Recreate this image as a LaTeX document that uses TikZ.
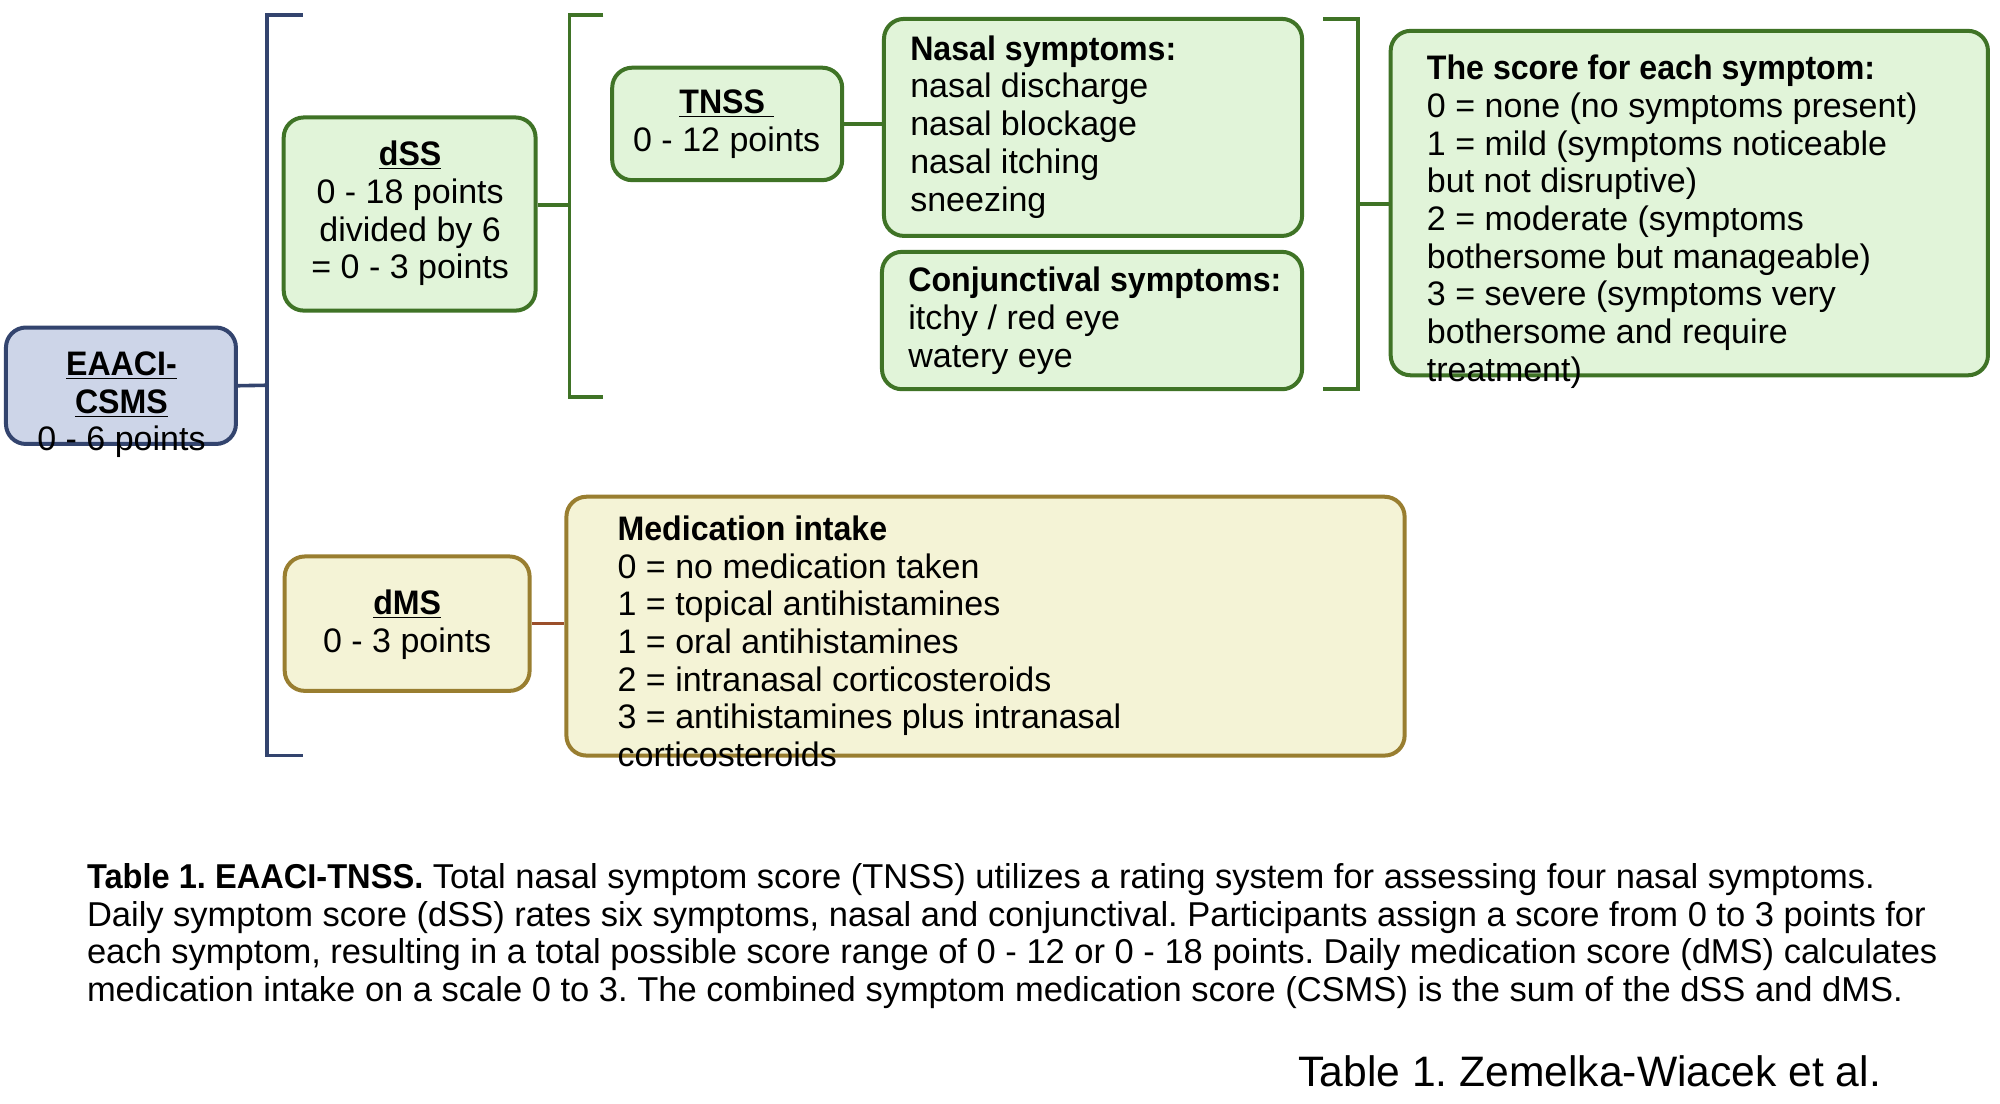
\documentclass[tikz,border=0pt]{standalone}
\usepackage{fontspec}
\setmainfont{Liberation Sans}[BoldFeatures={FakeStretch=0.945}]
\frenchspacing
\usetikzlibrary{fit}
\definecolor{bluefill}{HTML}{CDD5E8}
\definecolor{blueline}{HTML}{33446E}
\definecolor{greenfill}{HTML}{E1F4D9}
\definecolor{greenline}{HTML}{3F7326}
\definecolor{yellowfill}{HTML}{F4F3D6}
\definecolor{yellowline}{HTML}{997E30}
\definecolor{brownline}{HTML}{9B4F2A}
\begin{document}
\begin{tikzpicture}[x=0.5pt,y=-0.5pt,
  box/.style={draw, rounded corners=10pt, line width=2pt, inner sep=0pt},
  bluebox/.style={box, draw=blueline, fill=bluefill},
  greenbox/.style={box, draw=greenline, fill=greenfill},
  yellowbox/.style={box, draw=yellowline, fill=yellowfill},
  bracket/.style={line width=1.8pt},
  txt/.style={inner sep=0pt, font=\fontsize{17}{18.85}\selectfont, align=left, text=black},
  ctxt/.style={txt, align=center}]
\useasboundingbox[fill=white] (0,0) rectangle (2000,1103);
\begin{scope}[scale=0.9955]
% brackets
\draw[bracket, blueline] (304,15) -- (268,15) -- (268,759) -- (304,759);
\draw[bracket, greenline] (606,15) -- (572,15) -- (572,399) -- (606,399);
\draw[bracket, greenline] (1329,19) -- (1364,19) -- (1364,391) -- (1329,391);
\coordinate (bbc) at (268,387);
\coordinate (gbc) at (572,206);
\coordinate (rbc) at (1364,205);

% boxes
\node[bluebox, fit={(6,329) (237,446)}] (eaaci) {};
\node[greenbox, fit={(285,118) (538,312)}] (dss) {};
\node[greenbox, fit={(615,68) (846,181)}] (tnss) {};
\node[greenbox, fit={(888,19) (1308,237)}] (nasal) {};
\node[greenbox, fit={(886,253) (1308,391)}] (conj) {};
\node[greenbox, fit={(1397,31) (1997,377)}] (score) {};
\node[yellowbox, fit={(286,559) (532,694)}] (dms) {};
\node[yellowbox, fit={(569,499) (1411,759)}] (med) {};

% connectors
\draw[bracket, blueline] (eaaci.east) -- (bbc);
\draw[bracket, greenline] (gbc -| dss.east) -- (gbc);
\draw[bracket, greenline] (tnss.east) -- (tnss.east -| nasal.west);
\draw[bracket, greenline] (rbc) -- (rbc -| score.west);
\draw[bracket, brownline] (dms.east) -- (dms.east -| med.west);

% texts (anchored at the baseline of the last line)
\node[ctxt, anchor=base] (t-eaaci) at (122,453) {\underline{\textbf{EAACI-}}\\\underline{\textbf{CSMS}}\\0 - 6 points};
\node[ctxt, anchor=base] (t-dss) at (412,280) {\underline{\textbf{dSS}}\\0 - 18 points\\divided by 6\\= 0 - 3 points};
\node[ctxt, anchor=base] (t-tnss) at (730,152) {\underline{\textbf{TNSS\ }}\\0 - 12 points};
\node[txt, anchor=base west] (t-nasal) at (914,212) {\textbf{Nasal symptoms:}\\nasal discharge\\nasal blockage\\nasal itching\\sneezing};
\node[txt, anchor=base west] (t-conj) at (912,369) {\textbf{Conjunctival symptoms:}\\itchy / red eye\\watery eye};
\node[txt, anchor=base west] (t-score) at (1433,383) {\textbf{The score for each symptom:}\\0 = none (no symptoms present)\\1 = mild (symptoms noticeable\\but not disruptive)\\2 = moderate (symptoms\\bothersome but manageable)\\3 = severe (symptoms very\\bothersome and require\\treatment)};
\node[ctxt, anchor=base] (t-dms) at (409,655) {\underline{\textbf{dMS}}\\0 - 3 points};
\node[txt, anchor=base west] (t-med) at (620,770) {\textbf{Medication intake}\\0 = no medication taken\\1 = topical antihistamines\\1 = oral antihistamines\\2 = intranasal corticosteroids\\3 = antihistamines plus intranasal\\corticosteroids};

\node[txt, anchor=base west, font=\fontsize{17.25}{18.85}\selectfont] (caption) at (87,1006) {\textbf{Table 1. EAACI-TNSS.} Total nasal symptom score (TNSS) utilizes a rating system for assessing four nasal symptoms.\\Daily symptom score (dSS) rates six symptoms, nasal and conjunctival. Participants assign a score from 0 to 3 points for\\each symptom, resulting in a total possible score range of 0 - 12 or 0 - 18 points. Daily medication score (dMS) calculates\\medication intake on a scale 0 to 3. The combined symptom medication score (CSMS) is the sum of the dSS and dMS.};
\node[inner sep=0pt, anchor=base west, font=\fontsize{21.3}{25}\selectfont] (footer) at (1304,1091) {Table 1. Zemelka-Wiacek et al.};
\end{scope}
\end{tikzpicture}
\end{document}
